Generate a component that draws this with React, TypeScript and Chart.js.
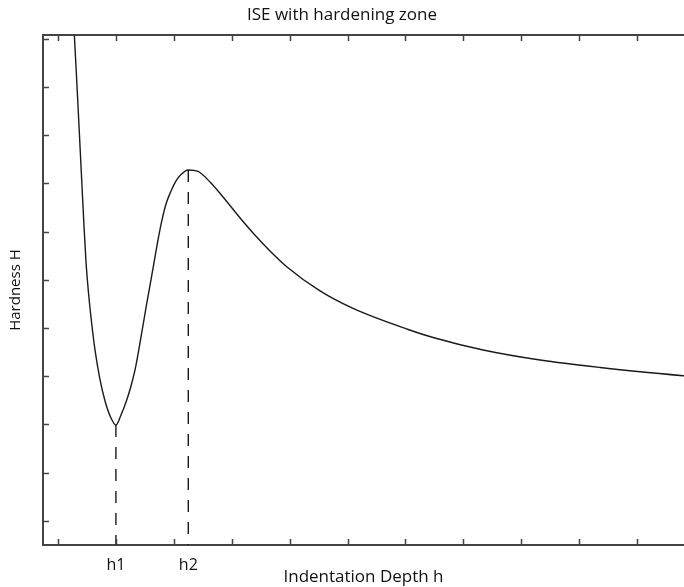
import React, { useEffect, useRef } from 'react';
import { Chart, registerables } from 'chart.js';

Chart.register(...registerables);

// Curve: Indentation depth (x) vs hardness (y), arbitrary units
const depthH = [
  1.256, 1.282, 1.314, 1.349, 1.38, 1.411, 1.449, 1.484, 1.527, 1.579, 1.639, 1.717, 1.812, 1.915, 2.0,
  2.088, 2.187, 2.261, 2.33, 2.404, 2.528, 2.646, 2.727, 2.796, 2.865, 2.952, 3.038, 3.124, 3.25,
  3.418, 3.625, 3.85, 4.109, 4.368, 4.661, 4.955, 5.525, 6.095, 7.045, 7.477, 8.341, 9.325, 10.361, 11.794, 11.915,
];
const hardnessH = [
  11.203, 10.581, 9.855, 9.025, 8.278, 7.531, 6.618, 5.871, 5.228, 4.627, 4.046, 3.485, 2.988, 2.635, 2.49,
  2.697, 3.008, 3.299, 3.631, 4.108, 4.979, 5.774, 6.328, 6.743, 7.075, 7.344, 7.552, 7.687, 7.78,
  7.749, 7.531, 7.22, 6.836, 6.473, 6.1, 5.768, 5.27, 4.907, 4.471, 4.305, 4.046, 3.838, 3.683, 3.512, 3.5,
];

// Marked depths
const h1 = 2.0;
const h1Hardness = 2.49;
const h2 = 3.25;
const h2Hardness = 7.78;

const xTickValues = [1, 2, 3, 4, 5, 6, 7, 8, 9, 10, 11];
const yTickValues = [0.5, 1.5, 2.5, 3.5, 4.5, 5.5, 6.5, 7.5, 8.5, 9.5, 10.5];
const xMin = 0.741;
const xMax = 11.81;
const yMin = 0;
const yMax = 10.58;

const FONT = "'Open Sans', sans-serif";
const AXIS_COLOR = '#444444';
const LINE_COLOR = '#1a1a1a';

const innerTicks = {
  id: 'innerTicks',
  afterDraw(chart: any) {
    const { ctx, chartArea: a, scales } = chart;
    const x = scales.x;
    const y = scales.y;
    ctx.save();
    ctx.strokeStyle = AXIS_COLOR;
    ctx.lineWidth = 2;
    ctx.beginPath();
    ctx.moveTo(a.left, a.top);
    ctx.lineTo(a.right, a.top);
    ctx.stroke();
    ctx.lineWidth = 1.5;
    ctx.beginPath();
    xTickValues.forEach((v) => {
      const px = Math.round(x.getPixelForValue(v)) + 0.5;
      ctx.moveTo(px, a.bottom);
      ctx.lineTo(px, a.bottom - 6);
      ctx.moveTo(px, a.top);
      ctx.lineTo(px, a.top + 6);
    });
    yTickValues.forEach((v) => {
      const py = Math.round(y.getPixelForValue(v)) + 0.5;
      ctx.moveTo(a.left, py);
      ctx.lineTo(a.left + 6, py);
    });
    ctx.stroke();
    ctx.restore();
  },
};

export default function App() {
  const ref = useRef<HTMLCanvasElement | null>(null);

  useEffect(() => {
    if (!ref.current) return;
    const curve = depthH.map((d, i) => ({ x: d, y: hardnessH[i] }));
    const chart = new Chart(ref.current, {
      type: 'line',
      data: {
        datasets: [
          {
            data: curve,
            borderColor: LINE_COLOR,
            borderWidth: 1.4,
            pointRadius: 0,
            cubicInterpolationMode: 'monotone',
            fill: false,
          },
          {
            data: [{ x: h1, y: h1Hardness }, { x: h1, y: yMin }],
            borderColor: LINE_COLOR,
            borderWidth: 1.4,
            borderDash: [12, 10],
            pointRadius: 0,
          },
          {
            data: [{ x: h2, y: h2Hardness }, { x: h2, y: yMin }],
            borderColor: LINE_COLOR,
            borderWidth: 1.4,
            borderDash: [12, 10],
            pointRadius: 0,
          },
        ],
      },
      options: {
        responsive: false,
        animation: false,
        layout: { padding: 0 },
        plugins: {
          legend: { display: false },
          tooltip: { enabled: false },
          title: {
            display: true,
            text: 'ISE with hardening zone',
            color: '#111',
            font: { family: FONT, size: 17, weight: 'normal', lineHeight: 1.2 },
            padding: { top: 4.5, bottom: 10.1 },
          },
        },
        scales: {
          x: {
            type: 'linear',
            min: xMin,
            max: xMax,
            afterBuildTicks: (scale: any) => {
              scale.ticks = [...xTickValues, h2].sort((a, b) => a - b).map((v) => ({ value: v }));
            },
            afterFit: (scale: any) => {
              scale.height = 42;
            },
            grid: { display: false },
            border: { display: true, color: AXIS_COLOR, width: 2 },
            ticks: {
              autoSkip: false,
              maxRotation: 0,
              padding: 3,
              color: '#111',
              font: { family: FONT, size: 16 },
              callback: (value: any) => (value === h1 ? 'h1' : value === h2 ? 'h2' : ''),
            },
            title: {
              display: true,
              text: 'Indentation Depth h',
              color: '#111',
              font: { family: FONT, size: 17, lineHeight: 1.2 },
              padding: { top: 0, bottom: 0 },
            },
          },
          y: {
            type: 'linear',
            min: yMin,
            max: yMax,
            afterFit: (scale: any) => {
              scale.width = 43;
            },
            grid: { display: false },
            border: { display: true, color: AXIS_COLOR, width: 2 },
            ticks: { display: false },
            title: {
              display: true,
              text: 'Hardness H',
              color: '#111',
              font: { family: FONT, size: 15, lineHeight: 1.2 },
              padding: { top: 7, bottom: 0 },
            },
          },
        },
      },
      plugins: [innerTicks],
    } as any);
    return () => chart.destroy();
  }, []);

  return (
    <div style={{ position: 'fixed', left: 0, top: 0, width: 684, height: 587, background: '#fff' }}>
      <canvas ref={ref} width={684} height={587} />
    </div>
  );
}
